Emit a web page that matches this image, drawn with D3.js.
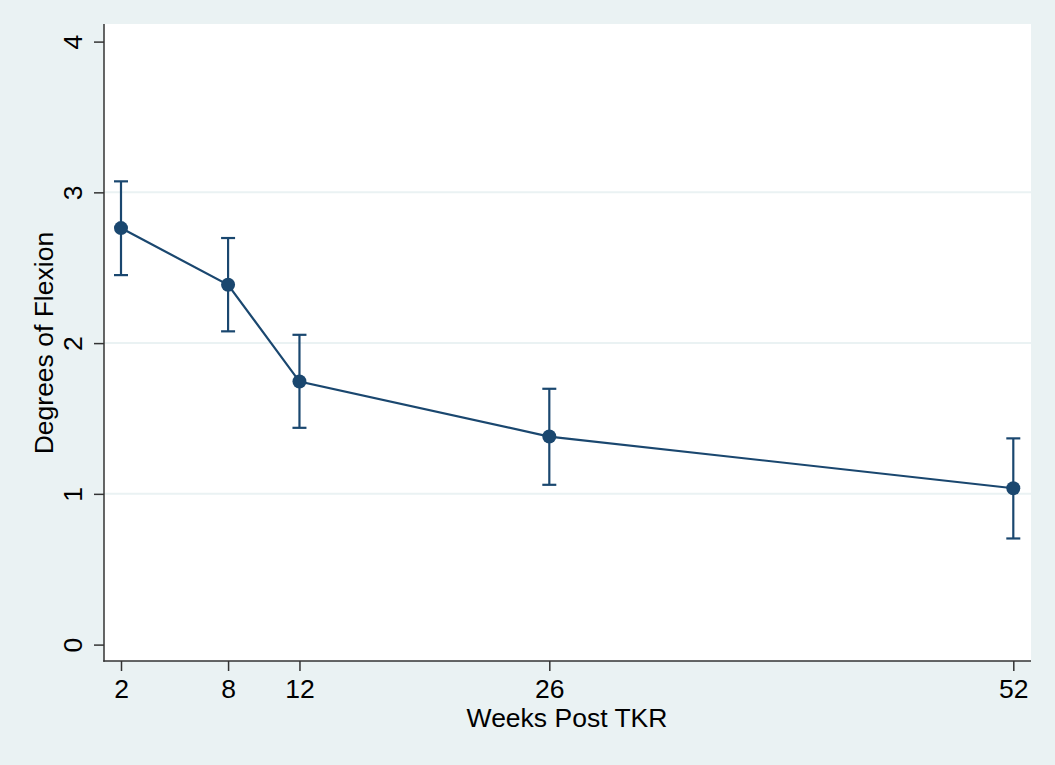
<!DOCTYPE html>
<html>
<head>
<meta charset="utf-8">
<script src="https://cdn.jsdelivr.net/npm/d3@7"></script>
<style>
html,body{margin:0;padding:0;background:#EAF2F3;}
svg{display:block;}
text{font-family:"Liberation Sans",Arial,Helvetica,sans-serif;fill:#000;}
</style>
</head>
<body>
<svg id="chart" width="1055" height="765"></svg>
<script>
const weeks = [2, 8, 12, 26, 52];
const means = [2.763, 2.387, 1.745, 1.380, 1.037];
const upper = [3.073, 2.697, 2.055, 1.697, 1.368];
const lower = [2.451, 2.078, 1.438, 1.060, 0.704];
const xTicks = [2, 8, 12, 26, 52];
const yTicks = [0, 1, 2, 3, 4];
const gridTicks = [1, 2, 3];
const xTitle = "Weeks Post TKR";
const yTitle = "Degrees of Flexion";

const svg = d3.select("#chart");
const W = 1055, H = 765;
const plot = {left: 104, right: 1031, top: 24, bottom: 661};
const col = "#1A476F";

svg.append("rect").attr("width", W).attr("height", H).attr("fill", "#EAF2F3");
svg.append("rect").attr("x", plot.left).attr("y", plot.top)
  .attr("width", plot.right - plot.left).attr("height", plot.bottom - plot.top)
  .attr("fill", "#fff");

const x = d3.scaleLinear().domain([2, 52]).range([121, 1013.3]);
const y = d3.scaleLinear().domain([0, 4]).range([644.6, 41.6]);

// grid
svg.append("g").selectAll("line").data(gridTicks).join("line")
  .attr("x1", plot.left).attr("x2", plot.right)
  .attr("y1", d => y(d)).attr("y2", d => y(d))
  .attr("stroke", "#EAF2F3").attr("stroke-width", 2);

const fs = 26.5;

// y axis
const yAxis = d3.axisLeft(y).tickValues(yTicks).tickSize(10).tickSizeOuter(0).tickPadding(0);
const gy = svg.append("g").attr("transform", `translate(${plot.left},0)`).call(yAxis);
gy.select(".domain").remove();
gy.selectAll(".tick line").attr("stroke", "#333").attr("stroke-width", 1.5);
gy.selectAll(".tick text").remove();
gy.selectAll(".tick").append("text")
  .attr("transform", "translate(-22,0) rotate(-90)")
  .attr("text-anchor", "middle")
  .style("font-size", fs + "px")
  .text(d => d);
svg.append("line").attr("x1", plot.left).attr("x2", plot.left)
  .attr("y1", plot.top).attr("y2", plot.bottom + 0.75)
  .attr("stroke", "#333").attr("stroke-width", 1.5);

// x axis
const xAxis = d3.axisBottom(x).tickValues(xTicks).tickSize(10).tickSizeOuter(0).tickPadding(0);
const gx = svg.append("g").attr("transform", `translate(0,${plot.bottom})`).call(xAxis);
gx.select(".domain").remove();
gx.selectAll(".tick line").attr("stroke", "#333").attr("stroke-width", 1.5);
gx.selectAll(".tick text").remove();
gx.selectAll(".tick").append("text")
  .attr("y", 37).attr("text-anchor", "middle")
  .style("font-size", fs + "px")
  .text(d => d);
svg.append("line").attr("x1", plot.left - 0.75).attr("x2", plot.right)
  .attr("y1", plot.bottom).attr("y2", plot.bottom)
  .attr("stroke", "#333").attr("stroke-width", 1.5);

// titles
svg.append("text").attr("x", 567).attr("y", 727)
  .attr("text-anchor", "middle").style("font-size", fs + "px").text(xTitle);
svg.append("text").attr("transform", `translate(53,${y(2)}) rotate(-90)`)
  .attr("text-anchor", "middle").style("font-size", fs + "px").text(yTitle);

const data = weeks.map((w, i) => ({w, m: means[i], hi: upper[i], lo: lower[i]}));

// error bars
const eb = svg.append("g").attr("stroke", col).attr("stroke-width", 2.2).attr("fill", "none");
eb.selectAll(".v").data(data).join("line")
  .attr("x1", d => x(d.w)).attr("x2", d => x(d.w))
  .attr("y1", d => y(d.hi)).attr("y2", d => y(d.lo));
eb.selectAll(".c1").data(data).join("line")
  .attr("x1", d => x(d.w) - 7).attr("x2", d => x(d.w) + 7)
  .attr("y1", d => y(d.hi)).attr("y2", d => y(d.hi));
eb.selectAll(".c2").data(data).join("line")
  .attr("x1", d => x(d.w) - 7).attr("x2", d => x(d.w) + 7)
  .attr("y1", d => y(d.lo)).attr("y2", d => y(d.lo));

// line
svg.append("path").datum(data)
  .attr("d", d3.line().x(d => x(d.w)).y(d => y(d.m)))
  .attr("fill", "none").attr("stroke", col).attr("stroke-width", 2.2);

// markers
svg.append("g").selectAll("circle").data(data).join("circle")
  .attr("cx", d => x(d.w)).attr("cy", d => y(d.m)).attr("r", 7)
  .attr("fill", col);
</script>
</body>
</html>
